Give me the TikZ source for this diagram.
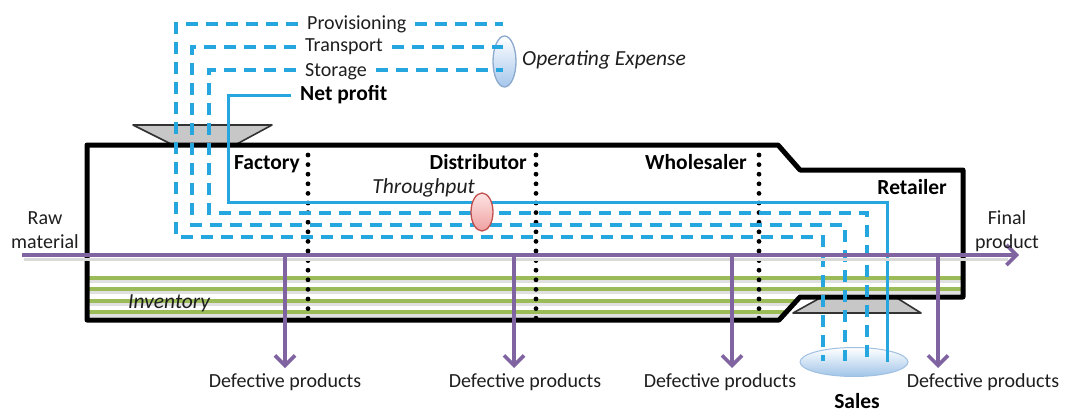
\documentclass[tikz,border=0pt]{standalone}
\usepackage{fontspec}
\setmainfont{Carlito}
\usetikzlibrary{arrows.meta,shapes.geometric}
\definecolor{costblue}{RGB}{38,166,222}
\definecolor{flowpurple}{RGB}{128,100,162}
\definecolor{invgreen}{RGB}{155,187,89}
\definecolor{textgray}{RGB}{30,30,30}
\begin{document}
\begin{tikzpicture}[x=1pt,y=-1pt,
  txt/.style={font=\fontsize{20}{24}\selectfont, text=textgray, inner sep=0pt},
  boldtxt/.style={font=\fontsize{21.5}{26}\selectfont\bfseries, text=black, inner sep=0pt},
  itxt/.style={font=\fontsize{21.5}{26}\selectfont\itshape, text=textgray, inner sep=0pt},
  costline/.style={draw=costblue, line width=3.2pt, dash pattern=on 12pt off 8pt},
  profitline/.style={draw=costblue, line width=3pt},
  flow/.style={draw=flowpurple, line width=3.6pt},
  flowarrow/.style={flow, -{Straight Barb[length=10pt,width=20pt]}},
  flowshadow/.style={draw=black!15, line width=3pt},
  inv/.style={draw=invgreen, line width=3.2pt},
  invshadow/.style={draw=black!12, line width=3pt},
  stagediv/.style={draw=black, line width=4.8pt, line cap=round, dash pattern=on 0pt off 9.6pt},
  funnel/.style={fill=black!22, draw=black!80, line width=1.6pt, line join=round},
  outline/.style={draw=black, line width=5pt, line join=round},
  bubble/.style={ellipse, inner sep=0pt},
]
\useasboundingbox (0,0) rectangle (1067,412);

% inventory layers
\foreach \y/\xe in {278/961, 289/961, 301/796, 312/786}{
  \draw[invshadow] (89,\y+3) -- (\xe,\y+3);
  \draw[inv] (89,\y) -- (\xe,\y);
}

% funnels: costs in, sales out
\draw[funnel] (133,125) -- (272,125) -- (235,145) -- (173,145) -- cycle;
\draw[funnel] (820,298) -- (897,298) -- (921,313) -- (793,313) -- cycle;

% supply chain outline
\draw[outline] (87,145) -- (778,145) -- (800,170) -- (963,170) -- (963,297)
  -- (800,297) -- (779,320) -- (87,320) -- cycle;

% stage boundaries
\draw[stagediv] (308,155) -- (308,320);
\draw[stagediv] (536,155) -- (536,320);
\draw[stagediv] (759,155) -- (759,320);

% ellipses under the cost lines
\node[bubble, minimum width=108pt, minimum height=29pt, top color=white,
  bottom color={rgb,255:red,160;green,196;blue,232}, draw={rgb,255:red,160;green,192;blue,225}, line width=1pt]
  (sales) at (854,362) {};
\node[bubble, minimum width=23pt, minimum height=51pt, top color=white,
  bottom color={rgb,255:red,165;green,198;blue,235}, draw={rgb,255:red,140;green,170;blue,205}, line width=1.3pt]
  (opex) at (504.5,61.5) {};

% cost labels
\node[txt, anchor=base west, inner xsep=9pt] (prov) at (298,30) {Provisioning};
\node[txt, anchor=base west, inner xsep=9pt] (trans) at (296,52) {Transport};
\node[txt, anchor=base west, inner xsep=9pt] (stor) at (296,76) {Storage};
\node[boldtxt, anchor=base west, inner xsep=9pt] (np) at (291,100) {Net profit};

% cost and profit routes
\coordinate (pv1) at (176,24);  \coordinate (pv2) at (176,237);
\coordinate (pv3) at (823,237); \coordinate (pv4) at (823,361);
\coordinate (tr1) at (192,47);  \coordinate (tr2) at (192,225);
\coordinate (tr3) at (845,225); \coordinate (tr4) at (845,361);
\coordinate (st1) at (209,70);  \coordinate (st2) at (209,213);
\coordinate (st3) at (867,213); \coordinate (st4) at (867,361);
\coordinate (np1) at (228,95);  \coordinate (np2) at (228,202);
\coordinate (np3) at (887,202); \coordinate (np4) at (887,362);
\coordinate (pvE) at (503,24);
\coordinate (trE) at (503,47);
\coordinate (stE) at (503,70);

\draw[costline] (prov.west |- pv1) -- (pv1) -- (pv2) -- (pv3) -- (pv4);
\draw[costline] (prov.east |- pv1) -- (pvE);
\draw[costline] (trans.west |- tr1) -- (tr1) -- (tr2) -- (tr3) -- (tr4);
\draw[costline] (trans.east |- tr1) -- (trE);
\draw[costline] (stor.west |- st1) -- (st1) -- (st2) -- (st3) -- (st4);
\draw[costline] (stor.east |- st1) -- (stE);
\draw[profitline] (np.west |- np1) -- (np1) -- (np2) -- (np3) -- (np4);

\node[bubble, minimum width=22pt, minimum height=38pt, top color={rgb,255:red,253;green,228;blue,228},
  bottom color={rgb,255:red,240;green,160;blue,160}, draw={rgb,255:red,192;green,80;blue,77}, line width=1.3pt]
  (thr) at (482,212) {};

% material flow
\coordinate (rawin) at (22,255);
\coordinate (finalout) at (1019,255);
\draw[flowshadow] (24,259) -- (1008,259);
\draw[flowarrow] (rawin) -- (finalout);
\foreach \x [count=\i] in {285,514,732,938}{
  \coordinate (dtop\i) at (\x,255);
  \coordinate (dbot\i) at (\x,368);
  \draw[flowarrow] (dtop\i) -- (dbot\i);
}

% labels
\node[itxt, anchor=base west] (opexlbl) at (522,65) {Operating Expense};
\node[boldtxt, anchor=base east] (factory) at (300,169) {Factory};
\node[boldtxt, anchor=base east] (distributor) at (527,169) {Distributor};
\node[boldtxt, anchor=base east] (wholesaler) at (747,169) {Wholesaler};
\node[boldtxt, anchor=base east] (retailer) at (947,194) {Retailer};
\node[itxt, anchor=base east] (thrlbl) at (475,193) {Throughput};
\node[itxt, anchor=base west] (invlbl) at (128,308) {Inventory};
\node[txt, align=center, anchor=north] (raw) at (45,211) {Raw\\material};
\node[txt, align=center, anchor=north] (final) at (1007,210) {Final\\product};
\node[txt, anchor=base] (def1) at (285,387) {Defective products};
\node[txt, anchor=base] (def2) at (525,387) {Defective products};
\node[txt, anchor=base] (def3) at (720,387) {Defective products};
\node[txt, anchor=base] (def4) at (983,387) {Defective products};
\node[boldtxt, anchor=base] (saleslbl) at (857,408) {Sales};
\end{tikzpicture}
\end{document}
